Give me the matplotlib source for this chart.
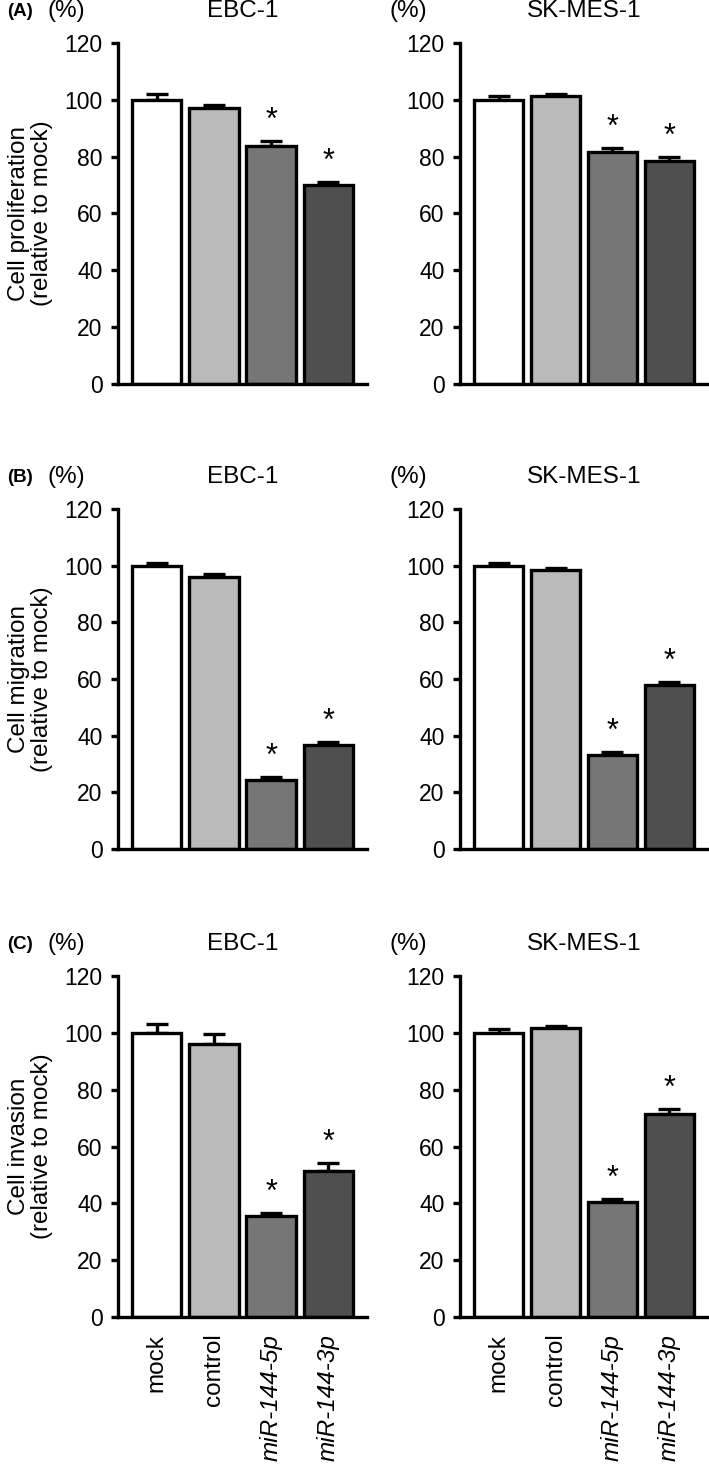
import numpy as np
import matplotlib
matplotlib.use("Agg")
import matplotlib.pyplot as plt

plt.rcParams["font.family"] = ["Liberation Sans", "DejaVu Sans"]

# ----------------------------------------------------------------------
# Data
# ----------------------------------------------------------------------
groups = ["mock", "control", "miR-144-5p", "miR-144-3p"]
bar_colors = ["#ffffff", "#bababa", "#767676", "#4f4f4f"]
cell_lines = ["EBC-1", "SK-MES-1"]
panel_tags = ["(A)", "(B)", "(C)"]
y_labels = ["Cell proliferation\n(relative to mock)",
            "Cell migration\n(relative to mock)",
            "Cell invasion\n(relative to mock)"]

prolif_ebc = [100.0, 97.2, 83.7, 69.9]
prolif_ebc_err = [2.2, 0.9, 1.8, 1.3]
prolif_sk = [100.0, 101.2, 81.7, 78.4]
prolif_sk_err = [1.2, 1.0, 1.2, 1.6]

migr_ebc = [100.0, 96.1, 24.5, 36.7]
migr_ebc_err = [0.9, 1.1, 0.8, 0.9]
migr_sk = [100.0, 98.5, 33.1, 57.8]
migr_sk_err = [1.0, 0.7, 1.0, 1.0]

inv_ebc = [100.0, 96.2, 35.6, 51.5]
inv_ebc_err = [3.0, 3.4, 1.1, 2.7]
inv_sk = [100.0, 101.7, 40.3, 71.5]
inv_sk_err = [1.5, 0.8, 1.3, 1.7]

# which bars carry a significance star
significant = [False, False, True, True]

panels = [
    [(prolif_ebc, prolif_ebc_err), (prolif_sk, prolif_sk_err)],
    [(migr_ebc, migr_ebc_err), (migr_sk, migr_sk_err)],
    [(inv_ebc, inv_ebc_err), (inv_sk, inv_sk_err)],
]

# ----------------------------------------------------------------------
# Layout (pixel based, figure is 709 x 1466)
# ----------------------------------------------------------------------
W, H = 709, 1466
fig = plt.figure(figsize=(W / 100, H / 100), dpi=100)

col_x = [(118, 367), (460, 708)]
row_y = [(43, 384), (509, 849), (976, 1317)]

LW = 2.4
FS = 17.5     # labels / titles
TFS = 16.5    # tick labels

for r, (top, bot) in enumerate(row_y):
    for c, (x0, x1) in enumerate(col_x):
        ax = fig.add_axes([x0 / W, 1 - bot / H, (x1 - x0) / W, (bot - top) / H])
        vals, errs = panels[r][c]
        x = np.arange(len(groups))
        ax.bar(x, vals, width=0.86, color=bar_colors, edgecolor="black",
               linewidth=LW, zorder=2)
        ax.errorbar(x, vals, yerr=[np.zeros(len(errs)), errs], fmt="none",
                    ecolor="black", elinewidth=LW, capsize=8, capthick=LW,
                    zorder=1)
        for i in range(len(groups)):
            if significant[i]:
                ax.text(x[i], vals[i] + errs[i] + 4.3, "*", ha="center",
                        va="baseline", fontsize=22)

        ax.set_xlim(-0.68, 3.68)
        ax.set_ylim(0, 120)
        ax.set_yticks(np.arange(0, 121, 20))
        ax.spines["top"].set_visible(False)
        ax.spines["right"].set_visible(False)
        ax.spines["left"].set_linewidth(LW)
        ax.spines["bottom"].set_linewidth(LW)
        ax.tick_params(axis="y", length=5, width=LW, labelsize=TFS, pad=6)
        ax.tick_params(axis="x", length=0, pad=12)

        if r == len(row_y) - 1:
            ax.set_xticks(x)
            ax.set_xticklabels(groups, rotation=90, fontsize=FS)
            for lbl in ax.get_xticklabels()[2:]:
                lbl.set_fontstyle("italic")
        else:
            ax.set_xticks([])

        # cell line title and unit label
        ax.annotate(cell_lines[c], xy=(0.5, 1), xycoords="axes fraction",
                    xytext=(0, 23), textcoords="offset points",
                    ha="center", va="center", fontsize=FS)
        ax.annotate("(%)", xy=(0, 1), xycoords="axes fraction",
                    xytext=(-37, 23), textcoords="offset points",
                    ha="center", va="center", fontsize=FS)

        if c == 0:
            ax.text(-0.35, 0.5, y_labels[r], transform=ax.transAxes,
                    rotation=90, ha="center", va="center", fontsize=FS,
                    linespacing=1.05)
            ax.annotate(panel_tags[r], xy=(0, 1), xycoords="axes fraction",
                        xytext=(-80, 23), textcoords="offset points",
                        ha="left", va="center", fontsize=13.5,
                        fontweight="bold")

fig.savefig("out.png", dpi=100)
